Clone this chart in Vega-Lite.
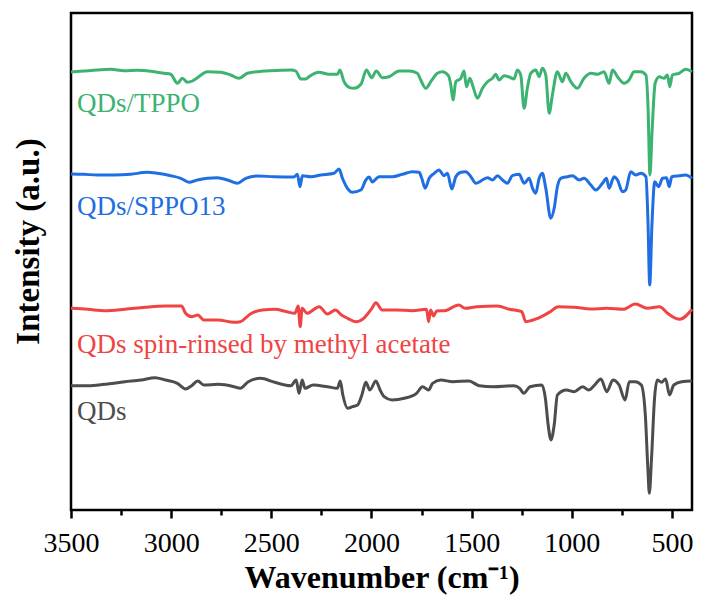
{
  "$schema": "https://vega.github.io/schema/vega-lite/v6.json",
  "width": 621,
  "height": 497,
  "autosize": {"type": "none"},
  "padding": {"left": 71, "top": 13, "right": 9, "bottom": 91},
  "background": "white",
  "config": {
    "view": {"stroke": "black", "strokeWidth": 2.5},
    "font": "Liberation Serif"
  },
  "datasets": {
    "spectra": [
      {"sample": "QDs/TPPO", "wavenumber": 3500, "intensity": 438},
      {"sample": "QDs/TPPO", "wavenumber": 3435, "intensity": 439},
      {"sample": "QDs/TPPO", "wavenumber": 3369, "intensity": 440},
      {"sample": "QDs/TPPO", "wavenumber": 3302, "intensity": 440.7},
      {"sample": "QDs/TPPO", "wavenumber": 3235, "intensity": 439.3},
      {"sample": "QDs/TPPO", "wavenumber": 3169, "intensity": 439.7},
      {"sample": "QDs/TPPO", "wavenumber": 3102, "intensity": 438.7},
      {"sample": "QDs/TPPO", "wavenumber": 3036, "intensity": 436.7},
      {"sample": "QDs/TPPO", "wavenumber": 3002, "intensity": 435.7},
      {"sample": "QDs/TPPO", "wavenumber": 2969, "intensity": 426.7},
      {"sample": "QDs/TPPO", "wavenumber": 2944, "intensity": 431.7},
      {"sample": "QDs/TPPO", "wavenumber": 2919, "intensity": 427.7},
      {"sample": "QDs/TPPO", "wavenumber": 2894, "intensity": 429},
      {"sample": "QDs/TPPO", "wavenumber": 2869, "intensity": 432.3},
      {"sample": "QDs/TPPO", "wavenumber": 2819, "intensity": 438.3},
      {"sample": "QDs/TPPO", "wavenumber": 2752, "intensity": 437.7},
      {"sample": "QDs/TPPO", "wavenumber": 2703, "intensity": 435},
      {"sample": "QDs/TPPO", "wavenumber": 2661, "intensity": 431.7},
      {"sample": "QDs/TPPO", "wavenumber": 2620, "intensity": 436.7},
      {"sample": "QDs/TPPO", "wavenumber": 2536, "intensity": 439},
      {"sample": "QDs/TPPO", "wavenumber": 2453, "intensity": 439.7},
      {"sample": "QDs/TPPO", "wavenumber": 2400, "intensity": 440},
      {"sample": "QDs/TPPO", "wavenumber": 2378, "intensity": 439},
      {"sample": "QDs/TPPO", "wavenumber": 2353, "intensity": 431},
      {"sample": "QDs/TPPO", "wavenumber": 2328, "intensity": 431},
      {"sample": "QDs/TPPO", "wavenumber": 2312, "intensity": 433.3},
      {"sample": "QDs/TPPO", "wavenumber": 2262, "intensity": 437.7},
      {"sample": "QDs/TPPO", "wavenumber": 2212, "intensity": 435.7},
      {"sample": "QDs/TPPO", "wavenumber": 2170, "intensity": 435.7},
      {"sample": "QDs/TPPO", "wavenumber": 2158, "intensity": 440},
      {"sample": "QDs/TPPO", "wavenumber": 2137, "intensity": 428.3},
      {"sample": "QDs/TPPO", "wavenumber": 2112, "intensity": 422.7},
      {"sample": "QDs/TPPO", "wavenumber": 2087, "intensity": 421.7},
      {"sample": "QDs/TPPO", "wavenumber": 2053, "intensity": 425.7},
      {"sample": "QDs/TPPO", "wavenumber": 2025, "intensity": 440},
      {"sample": "QDs/TPPO", "wavenumber": 1999, "intensity": 432.3},
      {"sample": "QDs/TPPO", "wavenumber": 1976, "intensity": 439},
      {"sample": "QDs/TPPO", "wavenumber": 1946, "intensity": 432.3},
      {"sample": "QDs/TPPO", "wavenumber": 1912, "intensity": 433.3},
      {"sample": "QDs/TPPO", "wavenumber": 1862, "intensity": 439},
      {"sample": "QDs/TPPO", "wavenumber": 1812, "intensity": 439},
      {"sample": "QDs/TPPO", "wavenumber": 1771, "intensity": 436.7},
      {"sample": "QDs/TPPO", "wavenumber": 1754, "intensity": 430},
      {"sample": "QDs/TPPO", "wavenumber": 1729, "intensity": 421.7},
      {"sample": "QDs/TPPO", "wavenumber": 1704, "intensity": 428.3},
      {"sample": "QDs/TPPO", "wavenumber": 1671, "intensity": 436.7},
      {"sample": "QDs/TPPO", "wavenumber": 1646, "intensity": 438.3},
      {"sample": "QDs/TPPO", "wavenumber": 1616, "intensity": 434.3},
      {"sample": "QDs/TPPO", "wavenumber": 1604, "intensity": 425},
      {"sample": "QDs/TPPO", "wavenumber": 1593, "intensity": 410},
      {"sample": "QDs/TPPO", "wavenumber": 1579, "intensity": 428.3},
      {"sample": "QDs/TPPO", "wavenumber": 1554, "intensity": 431.7},
      {"sample": "QDs/TPPO", "wavenumber": 1538, "intensity": 439},
      {"sample": "QDs/TPPO", "wavenumber": 1526, "intensity": 423.3},
      {"sample": "QDs/TPPO", "wavenumber": 1509, "intensity": 431.7},
      {"sample": "QDs/TPPO", "wavenumber": 1493, "intensity": 423.3},
      {"sample": "QDs/TPPO", "wavenumber": 1471, "intensity": 411.7},
      {"sample": "QDs/TPPO", "wavenumber": 1446, "intensity": 421.7},
      {"sample": "QDs/TPPO", "wavenumber": 1421, "intensity": 428.3},
      {"sample": "QDs/TPPO", "wavenumber": 1396, "intensity": 431.7},
      {"sample": "QDs/TPPO", "wavenumber": 1380, "intensity": 435.7},
      {"sample": "QDs/TPPO", "wavenumber": 1363, "intensity": 430},
      {"sample": "QDs/TPPO", "wavenumber": 1338, "intensity": 434.3},
      {"sample": "QDs/TPPO", "wavenumber": 1313, "intensity": 433},
      {"sample": "QDs/TPPO", "wavenumber": 1288, "intensity": 431},
      {"sample": "QDs/TPPO", "wavenumber": 1272, "intensity": 440},
      {"sample": "QDs/TPPO", "wavenumber": 1255, "intensity": 435},
      {"sample": "QDs/TPPO", "wavenumber": 1238, "intensity": 401.7},
      {"sample": "QDs/TPPO", "wavenumber": 1222, "intensity": 421.7},
      {"sample": "QDs/TPPO", "wavenumber": 1205, "intensity": 436.7},
      {"sample": "QDs/TPPO", "wavenumber": 1180, "intensity": 440},
      {"sample": "QDs/TPPO", "wavenumber": 1163, "intensity": 433.3},
      {"sample": "QDs/TPPO", "wavenumber": 1147, "intensity": 441.7},
      {"sample": "QDs/TPPO", "wavenumber": 1130, "intensity": 435},
      {"sample": "QDs/TPPO", "wavenumber": 1113, "intensity": 396.7},
      {"sample": "QDs/TPPO", "wavenumber": 1097, "intensity": 415},
      {"sample": "QDs/TPPO", "wavenumber": 1072, "intensity": 438.3},
      {"sample": "QDs/TPPO", "wavenumber": 1047, "intensity": 428.3},
      {"sample": "QDs/TPPO", "wavenumber": 1030, "intensity": 436.7},
      {"sample": "QDs/TPPO", "wavenumber": 1005, "intensity": 428.3},
      {"sample": "QDs/TPPO", "wavenumber": 972, "intensity": 421.7},
      {"sample": "QDs/TPPO", "wavenumber": 939, "intensity": 431.7},
      {"sample": "QDs/TPPO", "wavenumber": 905, "intensity": 436.7},
      {"sample": "QDs/TPPO", "wavenumber": 872, "intensity": 435.7},
      {"sample": "QDs/TPPO", "wavenumber": 839, "intensity": 438.3},
      {"sample": "QDs/TPPO", "wavenumber": 814, "intensity": 426.7},
      {"sample": "QDs/TPPO", "wavenumber": 797, "intensity": 440},
      {"sample": "QDs/TPPO", "wavenumber": 772, "intensity": 433.3},
      {"sample": "QDs/TPPO", "wavenumber": 739, "intensity": 426.7},
      {"sample": "QDs/TPPO", "wavenumber": 714, "intensity": 430},
      {"sample": "QDs/TPPO", "wavenumber": 689, "intensity": 438.3},
      {"sample": "QDs/TPPO", "wavenumber": 655, "intensity": 438.3},
      {"sample": "QDs/TPPO", "wavenumber": 630, "intensity": 435},
      {"sample": "QDs/TPPO", "wavenumber": 619, "intensity": 400},
      {"sample": "QDs/TPPO", "wavenumber": 610, "intensity": 335},
      {"sample": "QDs/TPPO", "wavenumber": 599, "intensity": 380},
      {"sample": "QDs/TPPO", "wavenumber": 584, "intensity": 426.7},
      {"sample": "QDs/TPPO", "wavenumber": 564, "intensity": 433.3},
      {"sample": "QDs/TPPO", "wavenumber": 539, "intensity": 431.7},
      {"sample": "QDs/TPPO", "wavenumber": 523, "intensity": 435},
      {"sample": "QDs/TPPO", "wavenumber": 511, "intensity": 423.3},
      {"sample": "QDs/TPPO", "wavenumber": 498, "intensity": 435},
      {"sample": "QDs/TPPO", "wavenumber": 464, "intensity": 436.7},
      {"sample": "QDs/TPPO", "wavenumber": 431, "intensity": 440.7},
      {"sample": "QDs/TPPO", "wavenumber": 400, "intensity": 438.3},

      {"sample": "QDs/SPPO13", "wavenumber": 3500, "intensity": 336},
      {"sample": "QDs/SPPO13", "wavenumber": 3435, "intensity": 335.7},
      {"sample": "QDs/SPPO13", "wavenumber": 3369, "intensity": 335},
      {"sample": "QDs/SPPO13", "wavenumber": 3285, "intensity": 335},
      {"sample": "QDs/SPPO13", "wavenumber": 3202, "intensity": 335.7},
      {"sample": "QDs/SPPO13", "wavenumber": 3119, "intensity": 337.7},
      {"sample": "QDs/SPPO13", "wavenumber": 3069, "intensity": 336.7},
      {"sample": "QDs/SPPO13", "wavenumber": 3002, "intensity": 334.3},
      {"sample": "QDs/SPPO13", "wavenumber": 2952, "intensity": 331.7},
      {"sample": "QDs/SPPO13", "wavenumber": 2911, "intensity": 327.7},
      {"sample": "QDs/SPPO13", "wavenumber": 2869, "intensity": 330},
      {"sample": "QDs/SPPO13", "wavenumber": 2819, "intensity": 331.7},
      {"sample": "QDs/SPPO13", "wavenumber": 2769, "intensity": 332.3},
      {"sample": "QDs/SPPO13", "wavenumber": 2719, "intensity": 330},
      {"sample": "QDs/SPPO13", "wavenumber": 2669, "intensity": 326.7},
      {"sample": "QDs/SPPO13", "wavenumber": 2628, "intensity": 331.7},
      {"sample": "QDs/SPPO13", "wavenumber": 2570, "intensity": 334},
      {"sample": "QDs/SPPO13", "wavenumber": 2486, "intensity": 333.3},
      {"sample": "QDs/SPPO13", "wavenumber": 2387, "intensity": 333},
      {"sample": "QDs/SPPO13", "wavenumber": 2370, "intensity": 335.7},
      {"sample": "QDs/SPPO13", "wavenumber": 2357, "intensity": 323.3},
      {"sample": "QDs/SPPO13", "wavenumber": 2345, "intensity": 334.3},
      {"sample": "QDs/SPPO13", "wavenumber": 2303, "intensity": 333.3},
      {"sample": "QDs/SPPO13", "wavenumber": 2253, "intensity": 335},
      {"sample": "QDs/SPPO13", "wavenumber": 2187, "intensity": 336.7},
      {"sample": "QDs/SPPO13", "wavenumber": 2162, "intensity": 341},
      {"sample": "QDs/SPPO13", "wavenumber": 2145, "intensity": 331.7},
      {"sample": "QDs/SPPO13", "wavenumber": 2120, "intensity": 321.7},
      {"sample": "QDs/SPPO13", "wavenumber": 2095, "intensity": 317.7},
      {"sample": "QDs/SPPO13", "wavenumber": 2053, "intensity": 320},
      {"sample": "QDs/SPPO13", "wavenumber": 2028, "intensity": 330},
      {"sample": "QDs/SPPO13", "wavenumber": 2012, "intensity": 333},
      {"sample": "QDs/SPPO13", "wavenumber": 1996, "intensity": 328},
      {"sample": "QDs/SPPO13", "wavenumber": 1962, "intensity": 333.3},
      {"sample": "QDs/SPPO13", "wavenumber": 1896, "intensity": 333.3},
      {"sample": "QDs/SPPO13", "wavenumber": 1846, "intensity": 335.7},
      {"sample": "QDs/SPPO13", "wavenumber": 1796, "intensity": 338.3},
      {"sample": "QDs/SPPO13", "wavenumber": 1762, "intensity": 337.7},
      {"sample": "QDs/SPPO13", "wavenumber": 1749, "intensity": 331.7},
      {"sample": "QDs/SPPO13", "wavenumber": 1732, "intensity": 321.7},
      {"sample": "QDs/SPPO13", "wavenumber": 1712, "intensity": 331.7},
      {"sample": "QDs/SPPO13", "wavenumber": 1687, "intensity": 336.7},
      {"sample": "QDs/SPPO13", "wavenumber": 1663, "intensity": 340},
      {"sample": "QDs/SPPO13", "wavenumber": 1638, "intensity": 334.3},
      {"sample": "QDs/SPPO13", "wavenumber": 1621, "intensity": 336.7},
      {"sample": "QDs/SPPO13", "wavenumber": 1599, "intensity": 321},
      {"sample": "QDs/SPPO13", "wavenumber": 1579, "intensity": 333.3},
      {"sample": "QDs/SPPO13", "wavenumber": 1554, "intensity": 337.7},
      {"sample": "QDs/SPPO13", "wavenumber": 1529, "intensity": 338.3},
      {"sample": "QDs/SPPO13", "wavenumber": 1504, "intensity": 333.3},
      {"sample": "QDs/SPPO13", "wavenumber": 1479, "intensity": 326.7},
      {"sample": "QDs/SPPO13", "wavenumber": 1446, "intensity": 330},
      {"sample": "QDs/SPPO13", "wavenumber": 1421, "intensity": 332.3},
      {"sample": "QDs/SPPO13", "wavenumber": 1396, "intensity": 330},
      {"sample": "QDs/SPPO13", "wavenumber": 1371, "intensity": 334.3},
      {"sample": "QDs/SPPO13", "wavenumber": 1346, "intensity": 330},
      {"sample": "QDs/SPPO13", "wavenumber": 1321, "intensity": 326.7},
      {"sample": "QDs/SPPO13", "wavenumber": 1297, "intensity": 334.3},
      {"sample": "QDs/SPPO13", "wavenumber": 1263, "intensity": 335.7},
      {"sample": "QDs/SPPO13", "wavenumber": 1238, "intensity": 326.7},
      {"sample": "QDs/SPPO13", "wavenumber": 1213, "intensity": 331.7},
      {"sample": "QDs/SPPO13", "wavenumber": 1196, "intensity": 321.7},
      {"sample": "QDs/SPPO13", "wavenumber": 1180, "intensity": 316.7},
      {"sample": "QDs/SPPO13", "wavenumber": 1163, "intensity": 331.7},
      {"sample": "QDs/SPPO13", "wavenumber": 1147, "intensity": 336.7},
      {"sample": "QDs/SPPO13", "wavenumber": 1130, "intensity": 321.7},
      {"sample": "QDs/SPPO13", "wavenumber": 1105, "intensity": 291.7},
      {"sample": "QDs/SPPO13", "wavenumber": 1088, "intensity": 301.7},
      {"sample": "QDs/SPPO13", "wavenumber": 1072, "intensity": 323.3},
      {"sample": "QDs/SPPO13", "wavenumber": 1055, "intensity": 331.7},
      {"sample": "QDs/SPPO13", "wavenumber": 1021, "intensity": 333.3},
      {"sample": "QDs/SPPO13", "wavenumber": 996, "intensity": 334.3},
      {"sample": "QDs/SPPO13", "wavenumber": 963, "intensity": 330},
      {"sample": "QDs/SPPO13", "wavenumber": 939, "intensity": 331.7},
      {"sample": "QDs/SPPO13", "wavenumber": 905, "intensity": 325},
      {"sample": "QDs/SPPO13", "wavenumber": 880, "intensity": 320},
      {"sample": "QDs/SPPO13", "wavenumber": 847, "intensity": 326.7},
      {"sample": "QDs/SPPO13", "wavenumber": 827, "intensity": 331.7},
      {"sample": "QDs/SPPO13", "wavenumber": 814, "intensity": 321.7},
      {"sample": "QDs/SPPO13", "wavenumber": 789, "intensity": 333.3},
      {"sample": "QDs/SPPO13", "wavenumber": 772, "intensity": 330},
      {"sample": "QDs/SPPO13", "wavenumber": 747, "intensity": 318.3},
      {"sample": "QDs/SPPO13", "wavenumber": 731, "intensity": 320},
      {"sample": "QDs/SPPO13", "wavenumber": 706, "intensity": 338.3},
      {"sample": "QDs/SPPO13", "wavenumber": 681, "intensity": 335},
      {"sample": "QDs/SPPO13", "wavenumber": 655, "intensity": 336.7},
      {"sample": "QDs/SPPO13", "wavenumber": 630, "intensity": 333.3},
      {"sample": "QDs/SPPO13", "wavenumber": 620, "intensity": 290},
      {"sample": "QDs/SPPO13", "wavenumber": 611, "intensity": 225},
      {"sample": "QDs/SPPO13", "wavenumber": 600, "intensity": 285},
      {"sample": "QDs/SPPO13", "wavenumber": 586, "intensity": 328.3},
      {"sample": "QDs/SPPO13", "wavenumber": 567, "intensity": 323.3},
      {"sample": "QDs/SPPO13", "wavenumber": 547, "intensity": 331.7},
      {"sample": "QDs/SPPO13", "wavenumber": 527, "intensity": 332.3},
      {"sample": "QDs/SPPO13", "wavenumber": 514, "intensity": 323.3},
      {"sample": "QDs/SPPO13", "wavenumber": 501, "intensity": 333.3},
      {"sample": "QDs/SPPO13", "wavenumber": 464, "intensity": 334.3},
      {"sample": "QDs/SPPO13", "wavenumber": 431, "intensity": 335},
      {"sample": "QDs/SPPO13", "wavenumber": 400, "intensity": 331.7},

      {"sample": "QDs spin-rinsed by methyl acetate", "wavenumber": 3500, "intensity": 201.7},
      {"sample": "QDs spin-rinsed by methyl acetate", "wavenumber": 3414, "intensity": 200.7},
      {"sample": "QDs spin-rinsed by methyl acetate", "wavenumber": 3333, "intensity": 199.3},
      {"sample": "QDs spin-rinsed by methyl acetate", "wavenumber": 3231, "intensity": 200.7},
      {"sample": "QDs spin-rinsed by methyl acetate", "wavenumber": 3131, "intensity": 202.7},
      {"sample": "QDs spin-rinsed by methyl acetate", "wavenumber": 3029, "intensity": 204},
      {"sample": "QDs spin-rinsed by methyl acetate", "wavenumber": 2948, "intensity": 204},
      {"sample": "QDs spin-rinsed by methyl acetate", "wavenumber": 2928, "intensity": 196.7},
      {"sample": "QDs spin-rinsed by methyl acetate", "wavenumber": 2898, "intensity": 193.3},
      {"sample": "QDs spin-rinsed by methyl acetate", "wavenumber": 2867, "intensity": 195},
      {"sample": "QDs spin-rinsed by methyl acetate", "wavenumber": 2837, "intensity": 190},
      {"sample": "QDs spin-rinsed by methyl acetate", "wavenumber": 2766, "intensity": 190},
      {"sample": "QDs spin-rinsed by methyl acetate", "wavenumber": 2686, "intensity": 187.7},
      {"sample": "QDs spin-rinsed by methyl acetate", "wavenumber": 2655, "intensity": 188.3},
      {"sample": "QDs spin-rinsed by methyl acetate", "wavenumber": 2605, "intensity": 196},
      {"sample": "QDs spin-rinsed by methyl acetate", "wavenumber": 2544, "intensity": 200},
      {"sample": "QDs spin-rinsed by methyl acetate", "wavenumber": 2483, "intensity": 200.7},
      {"sample": "QDs spin-rinsed by methyl acetate", "wavenumber": 2423, "intensity": 198.3},
      {"sample": "QDs spin-rinsed by methyl acetate", "wavenumber": 2382, "intensity": 196.7},
      {"sample": "QDs spin-rinsed by methyl acetate", "wavenumber": 2366, "intensity": 204},
      {"sample": "QDs spin-rinsed by methyl acetate", "wavenumber": 2356, "intensity": 183.3},
      {"sample": "QDs spin-rinsed by methyl acetate", "wavenumber": 2346, "intensity": 201.7},
      {"sample": "QDs spin-rinsed by methyl acetate", "wavenumber": 2322, "intensity": 196.7},
      {"sample": "QDs spin-rinsed by methyl acetate", "wavenumber": 2261, "intensity": 203.3},
      {"sample": "QDs spin-rinsed by methyl acetate", "wavenumber": 2220, "intensity": 196},
      {"sample": "QDs spin-rinsed by methyl acetate", "wavenumber": 2180, "intensity": 200},
      {"sample": "QDs spin-rinsed by methyl acetate", "wavenumber": 2150, "intensity": 195},
      {"sample": "QDs spin-rinsed by methyl acetate", "wavenumber": 2119, "intensity": 191.7},
      {"sample": "QDs spin-rinsed by methyl acetate", "wavenumber": 2079, "intensity": 188.3},
      {"sample": "QDs spin-rinsed by methyl acetate", "wavenumber": 2039, "intensity": 191.7},
      {"sample": "QDs spin-rinsed by methyl acetate", "wavenumber": 1998, "intensity": 201.7},
      {"sample": "QDs spin-rinsed by methyl acetate", "wavenumber": 1978, "intensity": 207.3},
      {"sample": "QDs spin-rinsed by methyl acetate", "wavenumber": 1947, "intensity": 200},
      {"sample": "QDs spin-rinsed by methyl acetate", "wavenumber": 1877, "intensity": 200},
      {"sample": "QDs spin-rinsed by methyl acetate", "wavenumber": 1796, "intensity": 199.3},
      {"sample": "QDs spin-rinsed by methyl acetate", "wavenumber": 1725, "intensity": 200.7},
      {"sample": "QDs spin-rinsed by methyl acetate", "wavenumber": 1715, "intensity": 188.3},
      {"sample": "QDs spin-rinsed by methyl acetate", "wavenumber": 1705, "intensity": 200},
      {"sample": "QDs spin-rinsed by methyl acetate", "wavenumber": 1690, "intensity": 194},
      {"sample": "QDs spin-rinsed by methyl acetate", "wavenumber": 1675, "intensity": 199},
      {"sample": "QDs spin-rinsed by methyl acetate", "wavenumber": 1635, "intensity": 199.3},
      {"sample": "QDs spin-rinsed by methyl acetate", "wavenumber": 1564, "intensity": 205},
      {"sample": "QDs spin-rinsed by methyl acetate", "wavenumber": 1533, "intensity": 201.7},
      {"sample": "QDs spin-rinsed by methyl acetate", "wavenumber": 1473, "intensity": 203.3},
      {"sample": "QDs spin-rinsed by methyl acetate", "wavenumber": 1371, "intensity": 204},
      {"sample": "QDs spin-rinsed by methyl acetate", "wavenumber": 1311, "intensity": 200.7},
      {"sample": "QDs spin-rinsed by methyl acetate", "wavenumber": 1250, "intensity": 198.3},
      {"sample": "QDs spin-rinsed by methyl acetate", "wavenumber": 1230, "intensity": 188.3},
      {"sample": "QDs spin-rinsed by methyl acetate", "wavenumber": 1169, "intensity": 191.7},
      {"sample": "QDs spin-rinsed by methyl acetate", "wavenumber": 1108, "intensity": 198.3},
      {"sample": "QDs spin-rinsed by methyl acetate", "wavenumber": 1068, "intensity": 203.3},
      {"sample": "QDs spin-rinsed by methyl acetate", "wavenumber": 987, "intensity": 202.7},
      {"sample": "QDs spin-rinsed by methyl acetate", "wavenumber": 906, "intensity": 201},
      {"sample": "QDs spin-rinsed by methyl acetate", "wavenumber": 825, "intensity": 201.7},
      {"sample": "QDs spin-rinsed by methyl acetate", "wavenumber": 744, "intensity": 200.7},
      {"sample": "QDs spin-rinsed by methyl acetate", "wavenumber": 683, "intensity": 206},
      {"sample": "QDs spin-rinsed by methyl acetate", "wavenumber": 623, "intensity": 201.7},
      {"sample": "QDs spin-rinsed by methyl acetate", "wavenumber": 562, "intensity": 203.3},
      {"sample": "QDs spin-rinsed by methyl acetate", "wavenumber": 522, "intensity": 196.7},
      {"sample": "QDs spin-rinsed by methyl acetate", "wavenumber": 461, "intensity": 190.7},
      {"sample": "QDs spin-rinsed by methyl acetate", "wavenumber": 400, "intensity": 200.7},

      {"sample": "QDs", "wavenumber": 3500, "intensity": 124.3},
      {"sample": "QDs", "wavenumber": 3414, "intensity": 124.3},
      {"sample": "QDs", "wavenumber": 3333, "intensity": 125.7},
      {"sample": "QDs", "wavenumber": 3231, "intensity": 128.3},
      {"sample": "QDs", "wavenumber": 3150, "intensity": 130},
      {"sample": "QDs", "wavenumber": 3080, "intensity": 132.3},
      {"sample": "QDs", "wavenumber": 3029, "intensity": 130},
      {"sample": "QDs", "wavenumber": 2969, "intensity": 126.7},
      {"sample": "QDs", "wavenumber": 2928, "intensity": 121},
      {"sample": "QDs", "wavenumber": 2898, "intensity": 124.3},
      {"sample": "QDs", "wavenumber": 2867, "intensity": 129},
      {"sample": "QDs", "wavenumber": 2837, "intensity": 125},
      {"sample": "QDs", "wavenumber": 2766, "intensity": 125.7},
      {"sample": "QDs", "wavenumber": 2686, "intensity": 123.3},
      {"sample": "QDs", "wavenumber": 2655, "intensity": 121.7},
      {"sample": "QDs", "wavenumber": 2615, "intensity": 128.3},
      {"sample": "QDs", "wavenumber": 2554, "intensity": 131.7},
      {"sample": "QDs", "wavenumber": 2483, "intensity": 127.7},
      {"sample": "QDs", "wavenumber": 2402, "intensity": 124.3},
      {"sample": "QDs", "wavenumber": 2376, "intensity": 130},
      {"sample": "QDs", "wavenumber": 2362, "intensity": 116.7},
      {"sample": "QDs", "wavenumber": 2346, "intensity": 130},
      {"sample": "QDs", "wavenumber": 2332, "intensity": 121.7},
      {"sample": "QDs", "wavenumber": 2291, "intensity": 125},
      {"sample": "QDs", "wavenumber": 2220, "intensity": 123.3},
      {"sample": "QDs", "wavenumber": 2170, "intensity": 121.7},
      {"sample": "QDs", "wavenumber": 2156, "intensity": 129},
      {"sample": "QDs", "wavenumber": 2143, "intensity": 115},
      {"sample": "QDs", "wavenumber": 2119, "intensity": 101.7},
      {"sample": "QDs", "wavenumber": 2095, "intensity": 103.3},
      {"sample": "QDs", "wavenumber": 2069, "intensity": 105},
      {"sample": "QDs", "wavenumber": 2048, "intensity": 115},
      {"sample": "QDs", "wavenumber": 2028, "intensity": 127.7},
      {"sample": "QDs", "wavenumber": 2008, "intensity": 120},
      {"sample": "QDs", "wavenumber": 1978, "intensity": 129},
      {"sample": "QDs", "wavenumber": 1957, "intensity": 120},
      {"sample": "QDs", "wavenumber": 1937, "intensity": 113.3},
      {"sample": "QDs", "wavenumber": 1897, "intensity": 110},
      {"sample": "QDs", "wavenumber": 1836, "intensity": 111.7},
      {"sample": "QDs", "wavenumber": 1775, "intensity": 116.7},
      {"sample": "QDs", "wavenumber": 1745, "intensity": 123.3},
      {"sample": "QDs", "wavenumber": 1715, "intensity": 120},
      {"sample": "QDs", "wavenumber": 1695, "intensity": 126.7},
      {"sample": "QDs", "wavenumber": 1654, "intensity": 130},
      {"sample": "QDs", "wavenumber": 1594, "intensity": 128.3},
      {"sample": "QDs", "wavenumber": 1513, "intensity": 129},
      {"sample": "QDs", "wavenumber": 1462, "intensity": 124.3},
      {"sample": "QDs", "wavenumber": 1391, "intensity": 123.3},
      {"sample": "QDs", "wavenumber": 1290, "intensity": 124.3},
      {"sample": "QDs", "wavenumber": 1260, "intensity": 121.7},
      {"sample": "QDs", "wavenumber": 1240, "intensity": 116.7},
      {"sample": "QDs", "wavenumber": 1209, "intensity": 123.3},
      {"sample": "QDs", "wavenumber": 1149, "intensity": 125},
      {"sample": "QDs", "wavenumber": 1132, "intensity": 111.7},
      {"sample": "QDs", "wavenumber": 1118, "intensity": 85},
      {"sample": "QDs", "wavenumber": 1104, "intensity": 70},
      {"sample": "QDs", "wavenumber": 1088, "intensity": 85},
      {"sample": "QDs", "wavenumber": 1072, "intensity": 115},
      {"sample": "QDs", "wavenumber": 1027, "intensity": 120},
      {"sample": "QDs", "wavenumber": 987, "intensity": 118.3},
      {"sample": "QDs", "wavenumber": 946, "intensity": 123.3},
      {"sample": "QDs", "wavenumber": 916, "intensity": 120},
      {"sample": "QDs", "wavenumber": 886, "intensity": 125},
      {"sample": "QDs", "wavenumber": 855, "intensity": 131},
      {"sample": "QDs", "wavenumber": 825, "intensity": 118.3},
      {"sample": "QDs", "wavenumber": 795, "intensity": 130},
      {"sample": "QDs", "wavenumber": 764, "intensity": 125},
      {"sample": "QDs", "wavenumber": 734, "intensity": 110},
      {"sample": "QDs", "wavenumber": 713, "intensity": 128.3},
      {"sample": "QDs", "wavenumber": 683, "intensity": 128.3},
      {"sample": "QDs", "wavenumber": 653, "intensity": 125},
      {"sample": "QDs", "wavenumber": 633, "intensity": 95},
      {"sample": "QDs", "wavenumber": 620, "intensity": 40},
      {"sample": "QDs", "wavenumber": 613, "intensity": 16.7},
      {"sample": "QDs", "wavenumber": 602, "intensity": 51.7},
      {"sample": "QDs", "wavenumber": 587, "intensity": 111.7},
      {"sample": "QDs", "wavenumber": 573, "intensity": 130},
      {"sample": "QDs", "wavenumber": 552, "intensity": 127.7},
      {"sample": "QDs", "wavenumber": 532, "intensity": 131},
      {"sample": "QDs", "wavenumber": 512, "intensity": 115},
      {"sample": "QDs", "wavenumber": 491, "intensity": 125},
      {"sample": "QDs", "wavenumber": 451, "intensity": 128.3},
      {"sample": "QDs", "wavenumber": 400, "intensity": 129}
    ],
    "labels": [
      {"sample": "QDs/TPPO", "wavenumber": 3470, "intensity": 406},
      {"sample": "QDs/SPPO13", "wavenumber": 3470, "intensity": 303},
      {"sample": "QDs spin-rinsed by methyl acetate", "wavenumber": 3470, "intensity": 165},
      {"sample": "QDs", "wavenumber": 3470, "intensity": 98}
    ]
  },
  "encoding": {
    "x": {
      "field": "wavenumber",
      "type": "quantitative",
      "scale": {"domain": [400, 3500], "reverse": true, "nice": false, "zero": false},
      "axis": {
        "title": "Wavenumber (cm⁻¹)",
        "values": [3500, 3250, 3000, 2750, 2500, 2250, 2000, 1750, 1500, 1250, 1000, 750, 500],
        "labelExpr": "datum.value % 500 === 0 ? datum.label : ''",
        "format": "d",
        "domain": false,
        "grid": false,
        "tickColor": "black",
        "tickWidth": 2.5,
        "tickSize": {"condition": {"test": "datum.value % 500 === 0", "value": 8}, "value": 5},
        "labelFont": "Liberation Serif",
        "labelFontSize": 28,
        "labelColor": "black",
        "labelPadding": 11,
        "labelFlush": false,
        "labelOverlap": false,
        "titleFont": "Liberation Serif",
        "titleFontSize": 32,
        "titleFontWeight": "bold",
        "titleColor": "black",
        "titlePadding": 5
      }
    },
    "y": {
      "field": "intensity",
      "type": "quantitative",
      "scale": {"domain": [0, 497], "nice": false, "zero": false},
      "axis": {
        "title": "Intensity (a.u.)",
        "labels": false,
        "ticks": false,
        "domain": false,
        "grid": false,
        "titleFont": "Liberation Serif",
        "titleFontSize": 33,
        "titleFontWeight": "bold",
        "titleColor": "black",
        "titlePadding": 26,
        "titleY": 228
      }
    },
    "color": {
      "field": "sample",
      "type": "nominal",
      "scale": {
        "domain": ["QDs/TPPO", "QDs/SPPO13", "QDs spin-rinsed by methyl acetate", "QDs"],
        "range": ["#3cb371", "#1f6fe3", "#f04444", "#4d4d4d"]
      },
      "legend": null
    }
  },
  "layer": [
    {
      "data": {"name": "spectra"},
      "mark": {"type": "line", "strokeWidth": 3, "interpolate": "monotone", "strokeJoin": "round"},
      "encoding": {"detail": {"field": "sample"}}
    },
    {
      "data": {"name": "labels"},
      "mark": {"type": "text", "align": "left", "baseline": "middle", "font": "Liberation Serif", "fontSize": 27},
      "encoding": {"text": {"field": "sample"}}
    }
  ]
}
